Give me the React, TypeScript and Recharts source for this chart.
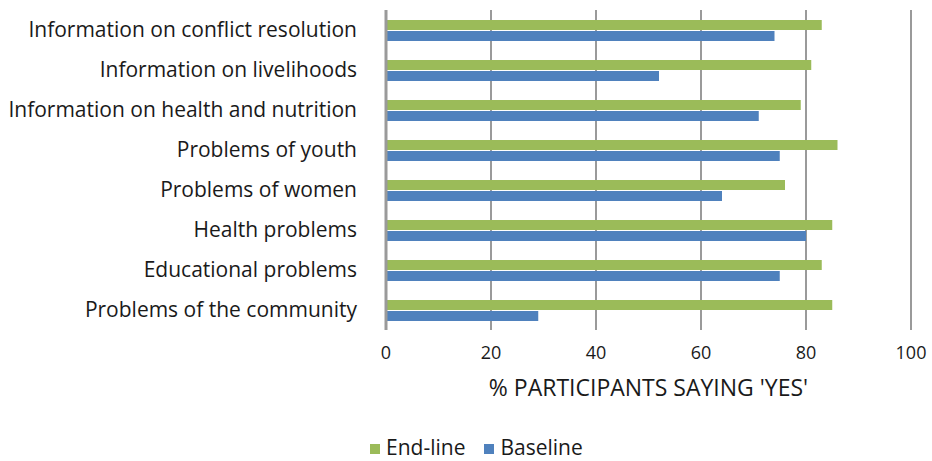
import { BarChart, Bar, XAxis, YAxis, CartesianGrid, Legend } from "recharts";

const categories = [
  "Information on conflict resolution",
  "Information on livelihoods",
  "Information on health and nutrition",
  "Problems of youth",
  "Problems of women",
  "Health problems",
  "Educational problems",
  "Problems of the community",
];
const endLine = [83, 81, 79, 86, 76, 85, 83, 85];
const baseline = [74, 52, 71, 75, 64, 80, 75, 29];
const xTicks = [0, 20, 40, 60, 80, 100];
const seriesOrder = ["End-line", "Baseline"];

const data = categories.map((name, i) => ({
  name,
  endLine: endLine[i],
  baseline: baseline[i],
}));

const FONT = "'Open Sans', Lato, sans-serif";
const GRID = "#9a9a9a";
const TEXT = "#1a1a1a";

export default function App() {
  return (
    <div
      style={{
        position: "absolute",
        left: 0,
        top: 0,
        width: 932,
        height: 461,
        background: "#fff",
        fontFamily: FONT,
      }}
    >
      <BarChart
        width={932}
        height={461}
        data={data}
        layout="vertical"
        margin={{ top: 10, right: 21, bottom: 0, left: 0 }}
        barSize={10}
        barGap={1}
      >
        <CartesianGrid horizontal={false} stroke={GRID} strokeWidth={2} />
        <XAxis
          type="number"
          domain={[0, 100]}
          ticks={xTicks}
          axisLine={false}
          tickLine={false}
          tickMargin={10}
          height={103}
          tick={{ fontSize: 18, fill: TEXT }}
          label={{
            value: "% PARTICIPANTS SAYING 'YES'",
            position: "insideTop",
            offset: 50,
            fontSize: 23,
            fill: TEXT,
          }}
        />
        <YAxis
          type="category"
          dataKey="name"
          width={386}
          interval={0}
          axisLine={{ stroke: GRID, strokeWidth: 3 }}
          tickLine={false}
          tickMargin={23}
          tick={{ fontSize: 21, fill: TEXT }}
        />
        <Legend
          verticalAlign="bottom"
          iconType="square"
          iconSize={10}
          itemSorter={(item) => seriesOrder.indexOf(String(item.value))}
          wrapperStyle={{ fontSize: 21, left: 370, width: "auto" }}
          formatter={(v) => (
            <span style={{ color: TEXT, marginLeft: 2, marginRight: 9 }}>{v}</span>
          )}
        />
        <Bar dataKey="endLine" name="End-line" fill="#9BBB59" isAnimationActive={false} />
        <Bar dataKey="baseline" name="Baseline" fill="#4F81BD" isAnimationActive={false} />
      </BarChart>
    </div>
  );
}
